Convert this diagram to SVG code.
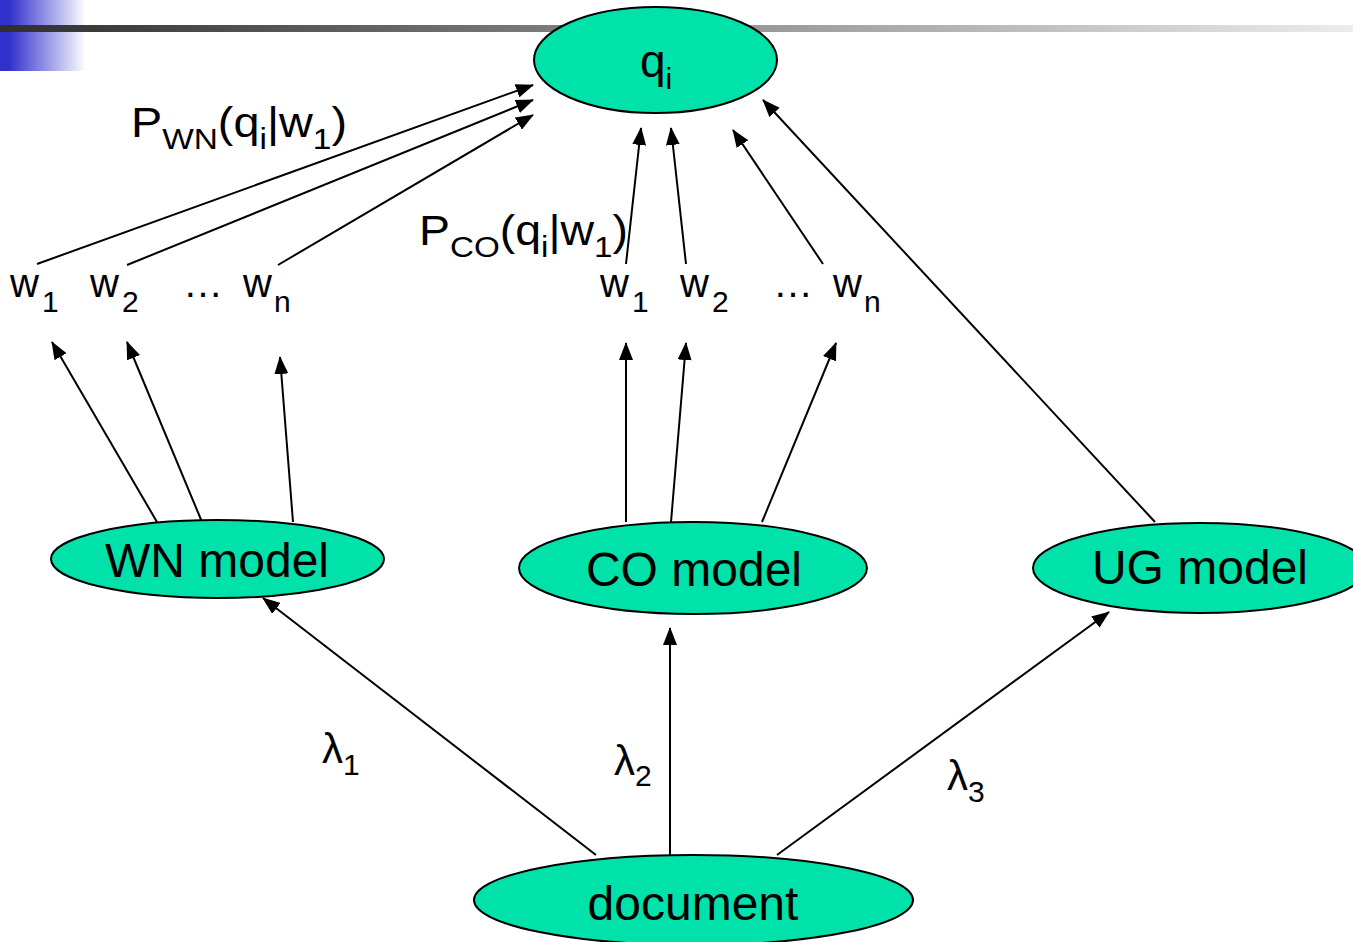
<svg xmlns="http://www.w3.org/2000/svg" width="1353" height="942" viewBox="0 0 1353 942">
<style>
.node ellipse{fill:#00E2AA;stroke:#000;stroke-width:2}
text{font-family:"Liberation Sans",Arial,sans-serif;fill:#000}
.lbl{font-size:48px;text-anchor:middle}
.w{font-size:40px}
.p{font-size:42px}
.sub{font-size:30px}
.edge line{stroke:#000;stroke-width:2;marker-end:url(#ah)}
</style>
<defs>
<marker id="ah" markerUnits="userSpaceOnUse" markerWidth="18" markerHeight="14" viewBox="0 0 18 14" refX="17" refY="7" orient="auto">
<path d="M0,0 L18,7 L0,14 Z" fill="#000"/>
</marker>
<linearGradient id="bar" x1="0" y1="0" x2="1" y2="0">
<stop offset="0" stop-color="#2e2e2e"/>
<stop offset="1" stop-color="#ececec"/>
</linearGradient>
<linearGradient id="blue" x1="0" y1="0" x2="1" y2="0">
<stop offset="0.1" stop-color="#3030cc"/>
<stop offset="1" stop-color="#ffffff"/>
</linearGradient>
</defs>
<rect width="1353" height="942" fill="#fff"/>
<g id="template">
<rect x="0" y="0" width="86" height="71" fill="url(#blue)"/>
<rect x="0" y="25" width="1353" height="7" fill="url(#bar)"/>
</g>
<g id="connectors" class="edge">
<line x1="37" y1="264" x2="533" y2="85"/>
<line x1="127" y1="265" x2="533" y2="100"/>
<line x1="278" y1="265" x2="533" y2="115"/>
<line x1="626" y1="264" x2="641" y2="128"/>
<line x1="686" y1="264" x2="671" y2="128"/>
<line x1="823" y1="264" x2="733" y2="130"/>
<line x1="1155" y1="522" x2="763" y2="100"/>
<line x1="157" y1="522" x2="52" y2="342"/>
<line x1="202" y1="522" x2="127" y2="342"/>
<line x1="293" y1="522" x2="280" y2="357"/>
<line x1="626" y1="522" x2="626" y2="343"/>
<line x1="671" y1="522" x2="686" y2="343"/>
<line x1="762" y1="522" x2="836" y2="343"/>
<line x1="596" y1="855" x2="263" y2="598"/>
<line x1="670" y1="855" x2="670" y2="628"/>
<line x1="777" y1="855" x2="1109" y2="612"/>
</g>
<g id="node-q" class="node">
<ellipse cx="655.5" cy="60" rx="121.5" ry="53"/>
<text x="640" y="77" font-size="46">q<tspan class="sub" dy="12">i</tspan></text>
</g>
<g id="node-wn" class="node">
<ellipse cx="217.5" cy="559" rx="166.5" ry="39"/>
<text class="lbl" x="217" y="577">WN model</text>
</g>
<g id="node-co" class="node">
<ellipse cx="693" cy="568" rx="174" ry="46"/>
<text class="lbl" x="694" y="586">CO model</text>
</g>
<g id="node-ug" class="node">
<ellipse cx="1200" cy="568" rx="167" ry="45"/>
<text class="lbl" x="1200" y="584">UG model</text>
</g>
<g id="node-doc" class="node">
<ellipse cx="693.5" cy="900" rx="219.5" ry="45"/>
<text class="lbl" x="693" y="920">document</text>
</g>
<g id="words-wn" class="w">
<text x="10" y="297">w<tspan class="sub" dx="3" dy="15">1</tspan></text>
<text x="90" y="297">w<tspan class="sub" dx="3" dy="15">2</tspan></text>
<text x="183" y="297">…</text>
<text x="243" y="297">w<tspan class="sub" dx="2" dy="15">n</tspan></text>
</g>
<g id="words-co" class="w">
<text x="600" y="297">w<tspan class="sub" dx="3" dy="15">1</tspan></text>
<text x="680" y="297">w<tspan class="sub" dx="3" dy="15">2</tspan></text>
<text x="773" y="297">…</text>
<text x="833" y="297">w<tspan class="sub" dx="2" dy="15">n</tspan></text>
</g>
<g id="edge-labels" class="p">
<text x="131" y="137" textLength="216" lengthAdjust="spacingAndGlyphs">P<tspan class="sub" dy="12">WN</tspan><tspan dy="-12">(q</tspan><tspan class="sub" dy="12">i</tspan><tspan dy="-12">|w</tspan><tspan class="sub" dy="12">1</tspan><tspan dy="-12">)</tspan></text>
<text x="419" y="245" textLength="209" lengthAdjust="spacingAndGlyphs">P<tspan class="sub" dy="12">CO</tspan><tspan dy="-12">(q</tspan><tspan class="sub" dy="12">i</tspan><tspan dy="-12">|w</tspan><tspan class="sub" dy="12">1</tspan><tspan dy="-12">)</tspan></text>
<text x="322" y="763">λ<tspan class="sub" dy="12">1</tspan></text>
<text x="614" y="775">λ<tspan class="sub" dy="11">2</tspan></text>
<text x="947" y="790">λ<tspan class="sub" dy="12">3</tspan></text>
</g>
</svg>
